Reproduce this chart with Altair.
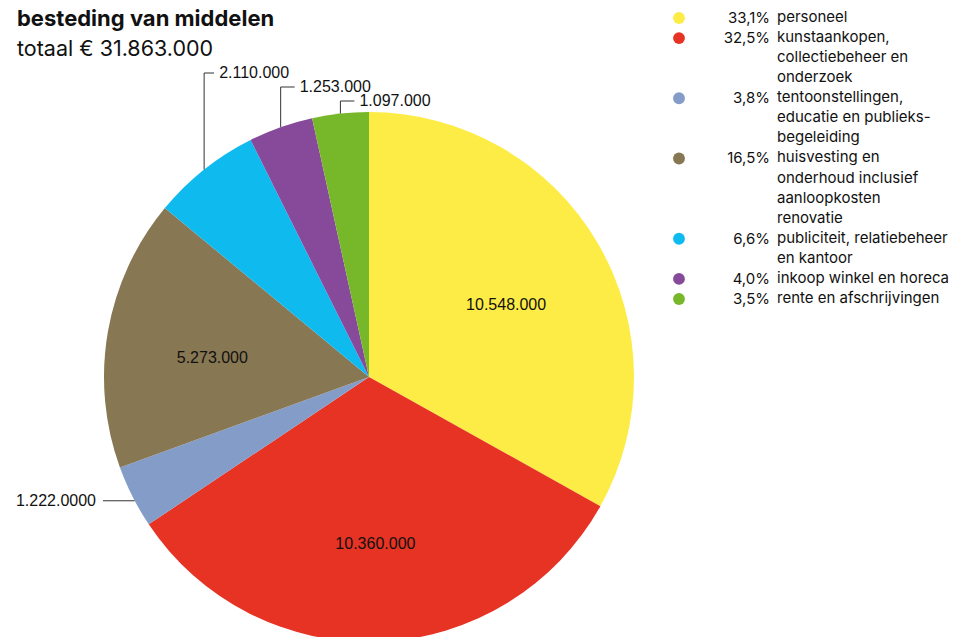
import math
import altair as alt
import pandas as pd

# ---------------- data ----------------
categories = ["personeel", "kunstaankopen", "tentoonstellingen", "huisvesting",
              "publiciteit", "inkoop", "rente"]
values = [10548000, 10360000, 1222000, 5273000, 2110000, 1253000, 1097000]
value_labels = ["10.548.000", "10.360.000", "1.222.0000", "5.273.000",
                "2.110.000", "1.253.000", "1.097.000"]
pct_labels = ["33,1%", "32,5%", "3,8%", "16,5%", "6,6%", "4,0%", "3,5%"]
legend_lines = [
    ["personeel"],
    ["kunstaankopen,", "collectiebeheer en", "onderzoek"],
    ["tentoonstellingen,", "educatie en publieks-", "begeleiding"],
    ["huisvesting en", "onderhoud inclusief", "aanloopkosten", "renovatie"],
    ["publiciteit, relatiebeheer", "en kantoor"],
    ["inkoop winkel en horeca"],
    ["rente en afschrijvingen"],
]
label_kind = ["inside", "inside", "left", "inside", "top", "top", "top"]
colors = ["#FDEC45", "#E63324", "#849CC8", "#877752", "#0FBAEE", "#874A9A", "#77B82B"]
title = "besteding van middelen"
subtitle = "totaal € 31.863.000"

# ---------------- layout ----------------
W, H = 946, 629
CX, CY, R = 361, 369, 265
TOP_LABEL_Y = [65, 79, 93]
LEFT_LABEL_X = 88
LEG_DOT_X, LEG_PCT_X, LEG_TXT_X, LEG_Y0, LEG_DY = 671, 762, 769, 9, 20.07

FONT_LEG = "Inter"
FONT_NUM = "Liberation Sans"

pie_df = pd.DataFrame({"cat": categories, "value": values,
                       "idx": list(range(len(values)))})

total = sum(values)
cum = 0
inside_rows, out_rows, seg_rows = [], [], []
top_i = 0
for i, v in enumerate(values):
    mid = (cum + v / 2) / total * 2 * math.pi
    cum += v
    sx, cy_ = math.sin(mid), -math.cos(mid)
    ex, ey = CX + R * sx, CY + R * cy_
    if label_kind[i] == "inside":
        r = 0.6 * R
        inside_rows.append({"x": CX + r * sx, "y": CY + r * cy_ + 8, "t": value_labels[i]})
    elif label_kind[i] == "top":
        ly = TOP_LABEL_Y[top_i]
        top_i += 1
        hl = 10 if top_i == 1 else 14
        seg_rows.append({"x": ex, "y": ey, "x2": ex, "y2": ly})
        seg_rows.append({"x": ex, "y": ly, "x2": ex + hl, "y2": ly})
        out_rows.append({"x": ex + hl + 5, "y": ly, "t": value_labels[i], "a": "left"})
    else:
        seg_rows.append({"x": LEFT_LABEL_X + 7, "y": ey + 4, "x2": ex + 2, "y2": ey + 4})
        out_rows.append({"x": LEFT_LABEL_X, "y": ey + 4, "t": value_labels[i], "a": "right"})

inside_df = pd.DataFrame(inside_rows)
out_df = pd.DataFrame(out_rows)
seg_df = pd.DataFrame(seg_rows)

leg_dot_rows, leg_txt_rows = [], []
row = 0
for i, lines in enumerate(legend_lines):
    y0 = LEG_Y0 + row * LEG_DY
    leg_dot_rows.append({"x": LEG_DOT_X, "y": y0 + 1, "cat": categories[i], "pct": pct_labels[i],
                         "px": LEG_PCT_X})
    for ln in lines:
        leg_txt_rows.append({"x": LEG_TXT_X, "y": LEG_Y0 + row * LEG_DY, "t": ln})
        row += 1
leg_dot_df = pd.DataFrame(leg_dot_rows)
leg_txt_df = pd.DataFrame(leg_txt_rows)

color_scale = alt.Scale(domain=categories, range=colors)

pie = alt.Chart(pie_df).mark_arc(outerRadius=R).encode(
    theta=alt.Theta("value:Q", stack=True),
    color=alt.Color("cat:N", scale=color_scale, legend=None),
    order=alt.Order("idx:Q"),
    x=alt.value(CX), y=alt.value(CY),
)

segs = alt.Chart(seg_df).mark_rule(color="#333333", strokeWidth=1).encode(
    x=alt.X("x:Q", scale=None), y=alt.Y("y:Q", scale=None),
    x2="x2:Q", y2="y2:Q",
)

inside_txt = alt.Chart(inside_df).mark_text(
    font=FONT_NUM, fontSize=16, color="#111111", baseline="middle", align="center"
).encode(x=alt.X("x:Q", scale=None), y=alt.Y("y:Q", scale=None), text="t:N")

out_left = alt.Chart(out_df[out_df["a"] == "left"]).mark_text(
    font=FONT_NUM, fontSize=16, color="#111111", baseline="middle", align="left"
).encode(x=alt.X("x:Q", scale=None), y=alt.Y("y:Q", scale=None), text="t:N")

out_right = alt.Chart(out_df[out_df["a"] == "right"]).mark_text(
    font=FONT_NUM, fontSize=16, color="#111111", baseline="middle", align="right"
).encode(x=alt.X("x:Q", scale=None), y=alt.Y("y:Q", scale=None), text="t:N")

leg_dots = alt.Chart(leg_dot_df).mark_circle(size=140, opacity=1).encode(
    x=alt.X("x:Q", scale=None), y=alt.Y("y:Q", scale=None),
    color=alt.Color("cat:N", scale=color_scale, legend=None),
)

leg_pct = alt.Chart(leg_dot_df).mark_text(
    font=FONT_LEG, fontSize=15, color="#111111", baseline="middle", align="right"
).encode(x=alt.X("px:Q", scale=None), y=alt.Y("y:Q", scale=None), text="pct:N")

leg_txt = alt.Chart(leg_txt_df).mark_text(
    font=FONT_LEG, fontSize=15, color="#111111", baseline="middle", align="left"
).encode(x=alt.X("x:Q", scale=None), y=alt.Y("y:Q", scale=None), text="t:N")

title_txt = alt.Chart(pd.DataFrame({"t": [title]})).mark_text(
    font=FONT_LEG, fontSize=22, fontWeight="bold", color="#111111",
    baseline="alphabetic", align="left"
).encode(x=alt.value(9), y=alt.value(18), text="t:N")

sub_txt = alt.Chart(pd.DataFrame({"t": [subtitle]})).mark_text(
    font=FONT_LEG, fontSize=21.5, color="#111111", baseline="alphabetic", align="left"
).encode(x=alt.value(9), y=alt.value(48), text="t:N")

chart = alt.layer(
    pie, segs, inside_txt, out_left, out_right, leg_dots, leg_pct, leg_txt,
    title_txt, sub_txt
).properties(
    width=W, height=H, padding=0, autosize="none", background="white"
).configure_view(strokeWidth=0)

chart.save("out.html", embed_options={"renderer": "svg", "actions": False})
